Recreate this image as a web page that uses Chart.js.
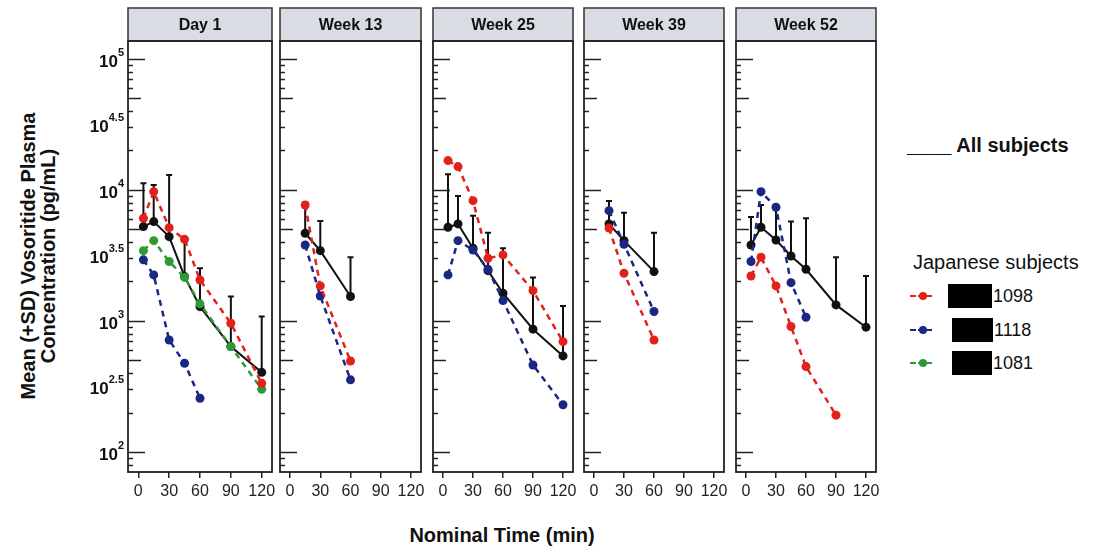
<!DOCTYPE html>
<html>
<head>
<meta charset="utf-8">
<script src="https://cdn.jsdelivr.net/npm/chart.js@4.4.1/dist/chart.umd.min.js"></script>
<style>
  body { margin: 0; background: #fff; width: 1098px; height: 551px; position: relative; overflow: hidden;
         font-family: 'Liberation Sans', Arial, sans-serif; color: #111; }
  canvas.panel { position: absolute; top: 0; }
  .txt { position: absolute; white-space: nowrap; }
  #ytitle { left: -127px; top: 236px; width: 330px; height: 40px; line-height: 20px; text-align: center;
            font-weight: bold; font-size: 20px; transform: rotate(-90deg); }
  #xtitle { left: 402px; top: 524px; width: 200px; text-align: center; font-weight: bold; font-size: 20px; }
  #allSubj { left: 907px; top: 134px; font-weight: bold; font-size: 20px; }
  #japSubj { left: 913px; top: 251px; font-size: 20px; }
  .lgLine { position: absolute; width: 22px; height: 0; border-top: 2px dashed; }
  .lgDot { position: absolute; width: 8px; height: 8px; border-radius: 50%; }
  .redact { position: absolute; background: #000; }
  .lgTxt { position: absolute; font-size: 18px; }
</style>
</head>
<body>
<div id="ytitle" class="txt">Mean (+SD) Vosoritide Plasma<br>Concentration (pg/mL)</div>
<div id="xtitle" class="txt">Nominal Time (min)</div>
<div id="allSubj" class="txt">____ All subjects</div>
<div id="japSubj" class="txt">Japanese subjects</div>
<div id="legendRows"></div>

<script>
// panels and axes
const panelTitles = ['Day 1', 'Week 13', 'Week 25', 'Week 39', 'Week 52'];
const xTicks = [0, 30, 60, 90, 120];
const yExponents = [5, 4.5, 4, 3.5, 3, 2.5, 2];
const yMin = 70.3, yMax = 137000;

// All subjects: mean and mean+SD per panel
const allTimes = [
  [5, 15, 30, 45, 60, 90, 120],
  [15, 30, 60],
  [5, 15, 30, 45, 60, 90, 120],
  [15, 30, 60],
  [5, 15, 30, 45, 60, 90, 120]
];
const allMean = [
  [5250, 5730, 4400, 2180, 1285, 637, 405],
  [4670, 3440, 1535],
  [5190, 5500, 3590, 2420, 1627, 865, 541],
  [5500, 4100, 2380],
  [3800, 5190, 4150, 3130, 2480, 1325, 896]
];
const allMeanPlusSd = [
  [11250, 10900, 13000, 4150, 2520, 1535, 1080],
  [8000, 5800, 3060],
  [13200, 9000, 6340, 4720, 3590, 2150, 1300],
  [8240, 6710, 4720],
  [6200, 7680, 7130, 5730, 6080, 3060, 2205]
];

// Japanese subjects
const subjectIds = ['1098', '1118', '1081'];
const subjectColors = ['#e3211c', '#1b2784', '#2f9a35'];
const subjTimes = [
  [[5, 15, 30, 45, 60, 90, 120], [15, 30, 60], [5, 15, 30, 45, 60, 90, 120], [15, 30, 60], [5, 15, 30, 45, 60, 90]],
  [[5, 15, 30, 45, 60], [15, 30, 60], [5, 15, 30, 45, 60, 90, 120], [15, 30, 60], [5, 15, 30, 45, 60]],
  [[5, 15, 30, 45, 60, 90, 120], [], [], [], []]
];
const subjValues = [
  [[6080, 9700, 5150, 4200, 2055, 960, 334], [7680, 1850, 495], [16750, 15070, 8280, 3010, 3190, 1703, 695], [5110, 2310, 716], [2205, 3060, 1850, 906, 448, 191]],
  [[2925, 2245, 716, 475, 257], [3800, 1550, 355], [2245, 4100, 3480, 2480, 1430, 461, 229], [6950, 3850, 1180], [2840, 9700, 7380, 1960, 1067]],
  [[3440, 4100, 2840, 2150, 1350, 637, 301], [], [], [], []]
];

// layout
const panelLeft = [128, 280, 433, 584, 736];
const panelWidth = [144, 141, 140, 140, 140];
const plotTop = 41, plotBottom = 472, stripTop = 8;
const tickFont = "'Liberation Sans Narrow', 'Liberation Sans', Arial, sans-serif";

function panelPlugin(p) {
  return {
    id: 'panel' + p,
    beforeDraw(chart) {
      const { ctx, chartArea: a } = chart;
      ctx.save();
      ctx.fillStyle = '#d9dce3';
      ctx.fillRect(a.left, stripTop, a.right - a.left, a.top - stripTop);
      ctx.strokeStyle = '#333';
      ctx.lineWidth = 1.5;
      ctx.strokeRect(a.left, stripTop, a.right - a.left, a.top - stripTop);
      ctx.fillStyle = '#111';
      ctx.font = "bold 16px 'Liberation Sans', Arial, sans-serif";
      ctx.textAlign = 'center';
      ctx.textBaseline = 'middle';
      ctx.fillText(panelTitles[p], (a.left + a.right) / 2, (stripTop + a.top) / 2 + 1);
      ctx.restore();
    },
    beforeDatasetsDraw(chart) {
      const { ctx, chartArea: a, scales: { x, y } } = chart;
      ctx.save();
      // inner log ticks
      ctx.strokeStyle = '#222';
      ctx.lineWidth = 1.5;
      for (let n = 1; n <= 5; n++) {
        for (let k = 1; k <= 9; k++) {
          const v = k * Math.pow(10, n);
          if (v < yMin || v > yMax) continue;
          const py = Math.round(y.getPixelForValue(v)) + 0.5;
          const len = k === 1 ? 17 : (k === 5 ? 13 : 5);
          ctx.beginPath();
          ctx.moveTo(a.left, py);
          ctx.lineTo(a.left + len, py);
          ctx.stroke();
        }
      }
      // SD bars
      ctx.strokeStyle = '#111';
      ctx.lineWidth = 2;
      allTimes[p].forEach((t, k) => {
        const px = x.getPixelForValue(t);
        const y0 = y.getPixelForValue(allMean[p][k]);
        const y1 = y.getPixelForValue(allMeanPlusSd[p][k]);
        ctx.beginPath();
        ctx.moveTo(px, y0);
        ctx.lineTo(px, y1);
        ctx.moveTo(px - 3, y1);
        ctx.lineTo(px + 3, y1);
        ctx.stroke();
      });
      ctx.restore();
    },
    afterDraw(chart) {
      const { ctx, chartArea: a, scales: { y } } = chart;
      ctx.save();
      ctx.strokeStyle = '#222';
      ctx.lineWidth = 1.8;
      ctx.strokeRect(a.left, a.top, a.right - a.left, a.bottom - a.top);
      if (p === 0) {
        ctx.fillStyle = '#111';
        ctx.textBaseline = 'middle';
        yExponents.forEach(e => {
          const py = y.getPixelForValue(Math.pow(10, e));
          const expTxt = String(e);
          ctx.font = "bold 11px 'Liberation Sans', Arial, sans-serif";
          const ew = ctx.measureText(expTxt).width;
          const right = a.left - 4;
          ctx.textAlign = 'left';
          ctx.fillText(expTxt, right - ew, py - 6);
          ctx.font = "bold 17px 'Liberation Sans', Arial, sans-serif";
          ctx.textAlign = 'right';
          ctx.fillText('10', right - ew, py + 3);
        });
      }
      ctx.restore();
    }
  };
}

panelTitles.forEach((title, p) => {
  const padL = p === 0 ? 70 : 8;
  const padR = 12;
  const cv = document.createElement('canvas');
  cv.className = 'panel';
  cv.width = padL + panelWidth[p] + padR;
  cv.height = plotBottom + 40;
  cv.style.left = (panelLeft[p] - padL) + 'px';
  document.body.appendChild(cv);

  const datasets = [];
  subjectIds.forEach((id, s) => {
    if (!subjTimes[s][p].length) return;
    datasets.push({
      label: id,
      data: subjTimes[s][p].map((t, k) => ({ x: t, y: subjValues[s][p][k] })),
      borderColor: subjectColors[s],
      backgroundColor: subjectColors[s],
      borderWidth: 2.5,
      borderDash: [6, 5],
      pointRadius: 4.5,
      pointBorderWidth: 0,
      tension: 0
    });
  });
  datasets.push({
    label: 'All subjects',
    data: allTimes[p].map((t, k) => ({ x: t, y: allMean[p][k] })),
    borderColor: '#111',
    backgroundColor: '#111',
    borderWidth: 2,
    pointRadius: 4.5,
    pointBorderWidth: 0,
    tension: 0
  });

  new Chart(cv, {
    type: 'line',
    data: { datasets },
    options: {
      responsive: false,
      animation: false,
      layout: { padding: { left: padL, right: padR, top: plotTop, bottom: 0 } },
      plugins: { legend: { display: false }, tooltip: { enabled: false } },
      scales: {
        x: {
          type: 'linear', min: -10, max: 130,
          afterBuildTicks: s => { s.ticks = xTicks.map(v => ({ value: v })); },
          afterFit: s => { s.height = 40; },
          grid: { drawOnChartArea: false, drawTicks: true, tickLength: 6, color: '#222', lineWidth: 1.5 },
          border: { display: false },
          ticks: { font: { family: tickFont, size: 16 }, color: '#222', padding: 4, maxRotation: 0, autoSkip: false,
                   callback: v => String(v) }
        },
        y: { type: 'logarithmic', min: yMin, max: yMax, display: false }
      }
    },
    plugins: [panelPlugin(p)]
  });
});

// legend rows for Japanese subjects
const rowY = [296, 330, 363];
const redactX = [[948, 992], [952, 993], [952, 992]];
const rows = document.getElementById('legendRows');
subjectIds.forEach((id, s) => {
  const c = subjectColors[s];
  rows.insertAdjacentHTML('beforeend',
    `<div class="lgLine" style="left:910px;top:${rowY[s] - 1}px;border-color:${c}"></div>` +
    `<div class="lgDot" style="left:919px;top:${rowY[s] - 4}px;background:${c}"></div>` +
    `<div class="redact" style="left:${redactX[s][0]}px;top:${rowY[s] - 12}px;width:${redactX[s][1] - redactX[s][0]}px;height:24px"></div>` +
    `<div class="lgTxt txt" style="left:${redactX[s][1] + 1}px;top:${rowY[s] - 10}px">${id}</div>`);
});
</script>
</body>
</html>
